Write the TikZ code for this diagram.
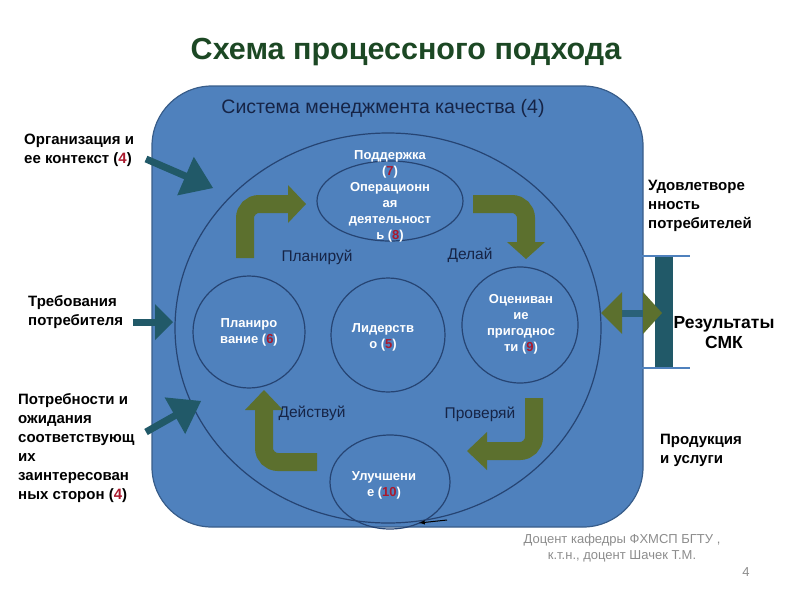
\documentclass[tikz,border=0pt]{standalone}
\usepackage{fontspec}
\setmainfont{Liberation Sans}
\usetikzlibrary{calc}
\definecolor{boxblue}{RGB}{79,129,189}
\definecolor{boxedge}{RGB}{56,93,138}
\definecolor{ringblue}{RGB}{38,68,115}
\definecolor{olivegr}{RGB}{92,112,46}
\definecolor{tealbar}{RGB}{33,89,104}
\definecolor{titlegreen}{RGB}{28,72,36}
\definecolor{navytext}{RGB}{22,36,70}
\definecolor{numred}{RGB}{170,25,45}
\definecolor{footgray}{RGB}{140,140,140}
\newcommand{\nr}[1]{\textcolor{numred}{#1}}
\tikzset{
  ring/.style={draw=ringblue, line width=1.2pt},
  intext/.style={align=center, text=white, font=\bfseries\fontsize{13}{16}\selectfont, inner sep=0pt},
  sidelabel/.style={align=left, anchor=west, text=black, font=\bfseries\fontsize{15}{19}\selectfont, inner sep=0pt},
  pdca/.style={text=navytext, font=\fontsize{15.5}{18}\selectfont, inner sep=0pt},
  bentarrow/.style={draw=olivegr, line width=18pt, rounded corners=14pt},
  headfill/.style={fill=olivegr},
  inarrow/.style={draw=tealbar, line width=7pt},
  inhead/.style={fill=tealbar}
}
\begin{document}
\begin{tikzpicture}[x=1pt,y=-1pt]
\useasboundingbox (0,0) rectangle (800,600);
% title
\node[font=\bfseries\fontsize{30.5}{34}\selectfont, text=titlegreen, inner sep=0pt] (title) at (406,52) {Схема процессного подхода};
% main box
\draw[fill=boxblue, draw=boxedge, line width=1.2pt, rounded corners=60pt] (152,86) rectangle (643,527);
\node[font=\fontsize{19.5}{22}\selectfont, text=navytext, inner sep=0pt] (qms) at (383,108) {Система менеджмента качества (4)};
% big ring
\draw[ring] (388,328) ellipse [x radius=213, y radius=195];
% small circles
\draw[ring] (390,201) ellipse [x radius=73, y radius=40];
\draw[ring] (249,332) circle [radius=56];
\draw[ring] (388,335) circle [radius=57];
\draw[ring] (520,325) circle [radius=58];
\draw[ring] (390,482) ellipse [x radius=60, y radius=47];
% texts in circles
\node[intext] (support) at (390,196) {Поддержка\\(\nr{7})\\Операционн\\ая\\деятельност\\ь (\nr{8})};
\node[intext] (plan) at (249,332) {Планиро\\вание (\nr{6})};
\node[intext] (lead) at (383,337) {Лидерств\\о (\nr{5})};
\node[intext] (eval) at (521,324) {Оцениван\\ие\\пригоднос\\ти (\nr{9})};
\node[intext] (impr) at (384,485) {Улучшени\\е (\nr{10})};
% PDCA labels
\node[pdca] (lplan) at (317,257) {Планируй};
\node[pdca] (ldo) at (470,255) {Делай};
\node[pdca] (lact) at (312,413) {Действуй};
\node[pdca] (lcheck) at (480,414) {Проверяй};
% bent arrows
\draw[bentarrow] (245,258) -- (245,204) -- (289,204);
\fill[headfill] (288,185) -- (306,204) -- (288,223) -- cycle;
\draw[bentarrow] (473,204) -- (526,204) -- (526,243);
\fill[headfill] (507,242) -- (526,259) -- (545,242) -- cycle;
\draw[bentarrow] (534,398) -- (534,451) -- (486,451);
\fill[headfill] (487,432) -- (467,451) -- (487,470) -- cycle;
\draw[bentarrow] (317,462) -- (264,462) -- (264,409);
\fill[headfill] (245,410) -- (264,390) -- (283,410) -- cycle;
% small black arrow at bottom of ring
\coordinate (ringA) at (447,520);
\coordinate (ringB) at (419,523);
\draw[-{latex}, black, line width=1pt] (ringA) -- (ringB);
% left labels
\node[sidelabel] (org) at (24,150) {Организация и\\ее контекст (\nr{4})};
\node[sidelabel] (req) at (28,312) {Требования\\потребителя};
\node[sidelabel] (needs) at (18,448) {Потребности и\\ожидания\\соответствующ\\их\\заинтересован\\ных сторон (\nr{4})};
% teal input arrows
\draw[inarrow] (146,159) -- (186.5,176.5);
\fill[inhead] (177.2,195.4) -- (213,188) -- (193.8,156.8) -- cycle;
\draw[inarrow] (133,322) -- (156,322);
\fill[inhead] (155,304) -- (173,322) -- (155,340) -- cycle;
\draw[inarrow] (146,432) -- (176,415);
\fill[inhead] (185.2,434.0) -- (201,401) -- (164.6,397.4) -- cycle;
% right side
\node[sidelabel] (sat) at (648,206) {Удовлетворе\\нность\\потребителей};
\node[sidelabel] (prod) at (660,450) {Продукция\\и услуги};
\fill[tealbar] (655,256) rectangle (673,368);
\draw[boxblue, line width=1.5pt] (638,256) -- (690,256);
\draw[boxblue, line width=1.5pt] (638,368) -- (690,368);
\draw[draw=tealbar!80!boxblue, line width=7pt] (620,313) -- (644,313);
\fill[headfill] (622,292) -- (601,313) -- (622,334) -- cycle;
\fill[headfill] (643,292) -- (662,313) -- (643,334) -- cycle;
\node[align=center, font=\bfseries\fontsize{17.5}{20}\selectfont, inner sep=0pt] (res) at (724,333) {Результаты\\СМК};
% footer
\node[align=center, text=footgray, font=\fontsize{13}{16}\selectfont, inner sep=0pt] (foot) at (622,548) {Доцент кафедры ФХМСП БГТУ ,\\к.т.н., доцент Шачек Т.М.};
\node[text=footgray, font=\fontsize{13}{14}\selectfont, inner sep=0pt] (page) at (746,572) {4};
\end{tikzpicture}
\end{document}
